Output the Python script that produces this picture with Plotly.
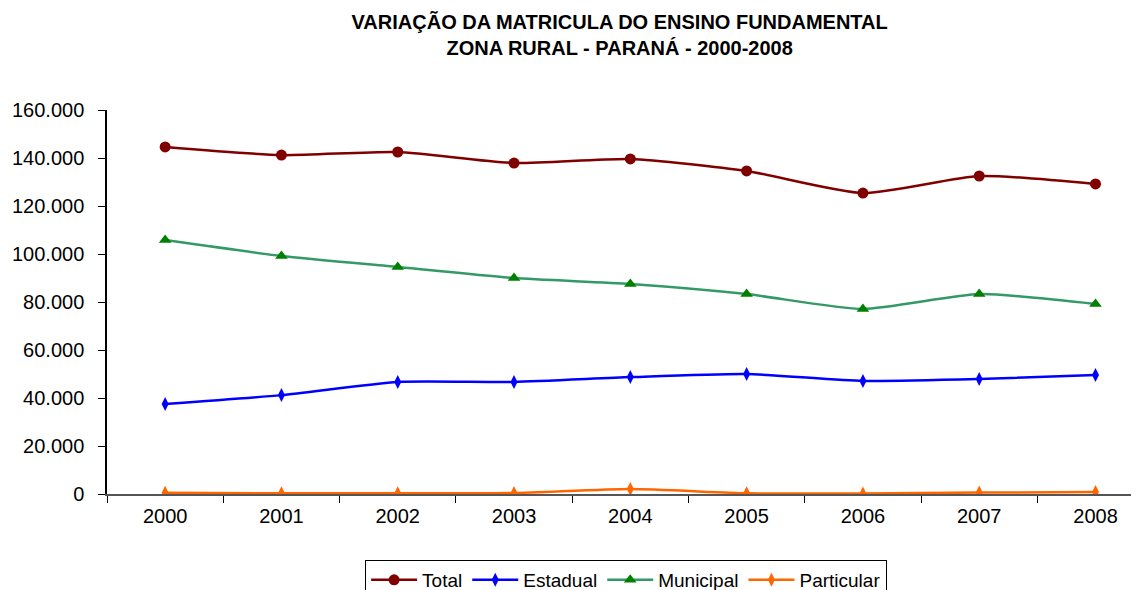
import plotly.graph_objects as go

years = ["2000", "2001", "2002", "2003", "2004", "2005", "2006", "2007", "2008"]
total = [144600, 141200, 142500, 137900, 139600, 134600, 125400, 132500, 129200]
estadual = [37500, 41200, 46700, 46700, 48700, 50000, 47100, 47900, 49600]
municipal = [105800, 99200, 94600, 90000, 87500, 83300, 77100, 83300, 79200]
particular = [500, 300, 300, 400, 2100, 300, 200, 600, 800]
y_ticks = [0, 20000, 40000, 60000, 80000, 100000, 120000, 140000, 160000]

fig = go.Figure()
fig.add_trace(go.Scatter(x=years, y=total, name="Total", mode="lines+markers",
                         line=dict(color="#800000", width=2.5, shape="spline", smoothing=0.6),
                         marker=dict(symbol="circle", size=11, color="#800000")))
fig.add_trace(go.Scatter(x=years, y=estadual, name="Estadual", mode="lines+markers",
                         line=dict(color="#0000FF", width=2.5, shape="spline", smoothing=0.6),
                         marker=dict(symbol="diamond-tall", size=10, color="#0000FF")))
fig.add_trace(go.Scatter(x=years, y=municipal, name="Municipal", mode="lines+markers",
                         line=dict(color="#339966", width=2.5, shape="spline", smoothing=0.6),
                         marker=dict(symbol="triangle-up", size=11, color="#008000")))
fig.add_trace(go.Scatter(x=years, y=particular, name="Particular", mode="lines+markers",
                         line=dict(color="#FF6600", width=2.5, shape="spline", smoothing=0.6),
                         marker=dict(symbol="diamond-tall", size=10, color="#FF6600")))

fig.update_layout(
    width=1139, height=590,
    margin=dict(l=99, r=8, t=102, b=104, autoexpand=False),
    paper_bgcolor="white", plot_bgcolor="white",
    separators=",.",
    font=dict(family="Liberation Sans, Arial, sans-serif", size=20, color="black"),
    title=dict(text="<b>VARIAÇÃO DA MATRICULA DO ENSINO FUNDAMENTAL<br>ZONA RURAL - PARANÁ - 2000-2008</b>",
               x=0.537, xanchor="center", y=0.965, yanchor="top",
               font=dict(size=20, family="Liberation Sans, Arial, sans-serif", color="black")),
    showlegend=True,
    legend=dict(orientation="h", x=0.503, xanchor="center",
                yref="container", y=0.0644, yanchor="top",
                bordercolor="black", borderwidth=1, bgcolor="white",
                font=dict(size=19), itemwidth=46, tracegroupgap=0),
    xaxis=dict(type="category", range=[-0.5, 8.374], showgrid=False, automargin=False,
               showline=True, linecolor="#555555", linewidth=1.5,
               ticks="outside", tickson="boundaries", ticklen=7, tickcolor="black",
               ticklabelstandoff=3,
               tickfont=dict(size=20), zeroline=False),
    yaxis=dict(range=[0, 160000], tickvals=y_ticks, tickformat=",d", showgrid=False,
               showline=True, linecolor="black", linewidth=1.5, automargin=False,
               ticks="outside", ticklen=7, tickcolor="black",
               ticklabelstandoff=10,
               tickfont=dict(size=20), zeroline=False),
)

fig.write_html("out.html")
